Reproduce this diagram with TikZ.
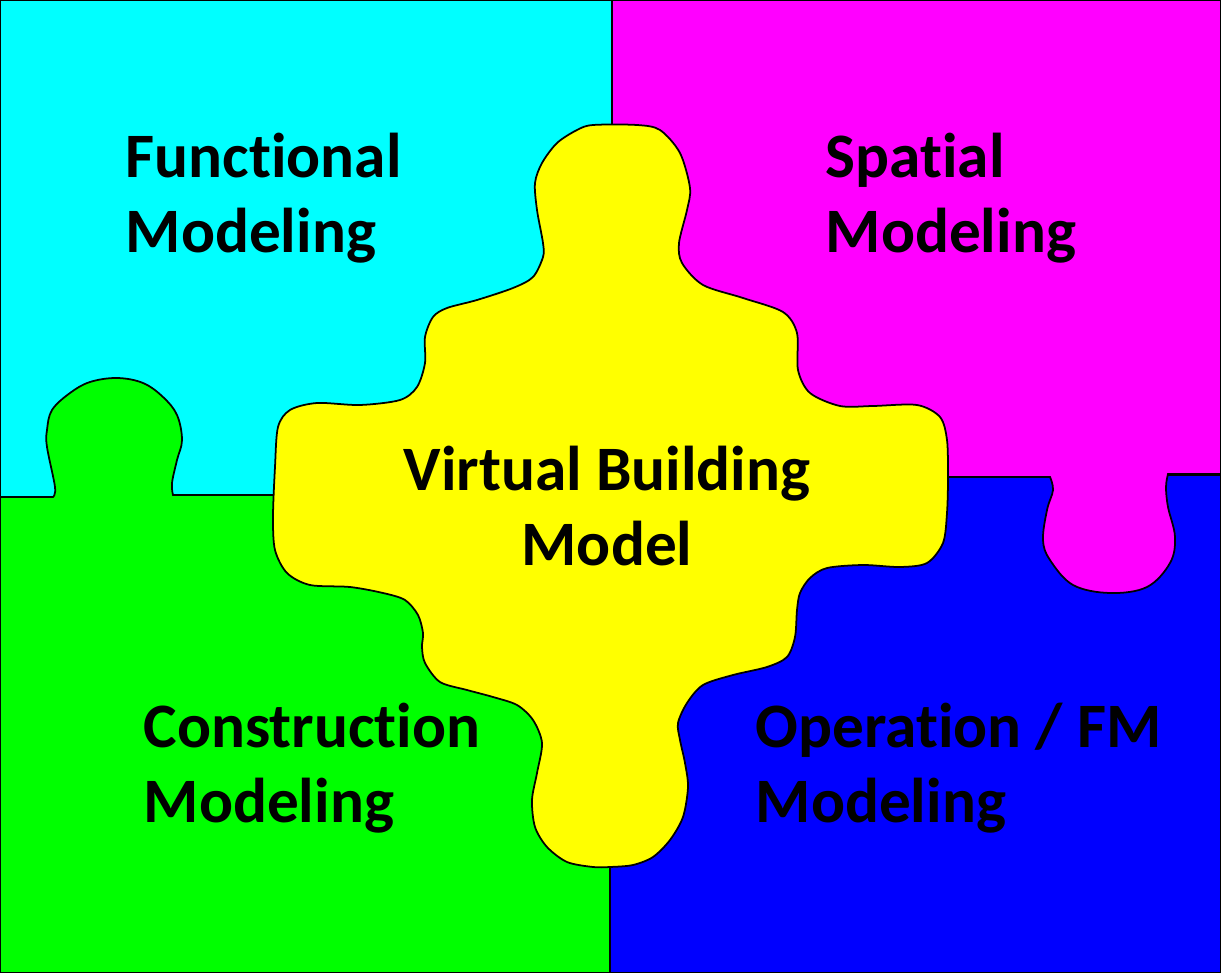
\documentclass[tikz,border=0pt]{standalone}
\usepackage{fontspec}
\setmainfont{Carlito}[Ligatures=NoCommon]
\usepackage{xcolor}
\usepackage{tikz}
\usetikzlibrary{positioning}

\definecolor{fncyan}{HTML}{00FFFF}
\definecolor{spmagenta}{HTML}{FF00FF}
\definecolor{cngreen}{HTML}{00FF00}
\definecolor{opblue}{HTML}{0000FF}
\definecolor{vbyellow}{HTML}{FFFF00}

\begin{document}
\begin{tikzpicture}[x=0.01cm, y=-0.01cm,
    piece/.style={draw=black, line width=0.5pt},
    piecetext/.style={font=\fontsize{18}{21.3}\selectfont\bfseries, align=left, anchor=base west, inner sep=0pt}]
    \useasboundingbox (0,0) rectangle (1221,973);

    % Functional and Spatial pieces
    \filldraw[piece, fill=fncyan] (0,0) rectangle (612,497);
    \filldraw[piece, fill=opblue] (610,475) rectangle (1221,973);
    \filldraw[piece, fill=spmagenta] (612,0) -- (1221,0) -- (1221,474)
        -- plot[smooth, tension=0.6] coordinates {(1168,474) (1166,487) (1168,507) (1175,537) (1170,563) (1147,587) (1110,593) (1073,585) (1050,560) (1043,540) (1047,510) (1053,490) (1050,477)}
        -- (612,477) -- cycle;

    % Construction piece with its tab
    \filldraw[piece, fill=cngreen] (0,973) -- (0,497)
        -- plot[smooth, tension=0.6] coordinates {(53,497) (55,487) (47,447) (47,430) (52,410) (70,393) (90,382) (117,378) (143,383) (163,397) (177,415) (182,440) (177,460) (172,483) (173,495)}
        -- (610,495) -- (610,973) -- cycle;

    % Virtual building model in the middle
    \filldraw[piece, fill=vbyellow] plot[smooth cycle, tension=0.5] coordinates {
        (593,125) (637,125) (660,130) (680,153) (690,188) (687,210) (679,243) (682,263) (703,285)
        (743,298) (783,312) (797,333) (798,370) (810,393) (840,406) (873,406) (917,405) (940,417)
        (947,440) (948,477) (947,513) (943,543) (927,563) (900,567) (863,565) (827,568) (810,578)
        (800,593) (797,610) (795,637) (787,657) (767,667) (733,675) (703,685) (687,703) (678,723)
        (680,740) (685,763) (688,787) (683,817) (670,840) (653,857) (633,865) (610,867) (593,867)
        (567,862) (547,847) (535,827) (532,800) (537,773) (542,743) (533,720) (517,705) (493,697)
        (467,690) (440,682) (425,663) (422,647) (423,633) (418,615) (405,600) (383,593) (350,587)
        (310,585) (287,573) (275,550) (273,517) (275,467) (278,427) (290,410) (317,403) (360,405)
        (400,400) (417,387) (425,363) (425,337) (433,317) (447,308) (477,300) (513,288) (533,277)
        (543,257) (543,243) (537,210) (535,183) (542,163) (557,143) (577,130)};

    % Texts (anchored on the last line)
    \node[piecetext] (functional) at (125,252) {Functional\\Modeling};
    \node[piecetext] (spatial) at (825,252) {Spatial\\Modeling};
    \node[piecetext, align=center, anchor=base] (virtual) at (607,565) {Virtual Building\\Model};
    \node[piecetext] (construction) at (143,822) {Construction\\Modeling};
    \node[piecetext] (operation) at (755,822) {Operation / FM\\Modeling};
\end{tikzpicture}
\end{document}
